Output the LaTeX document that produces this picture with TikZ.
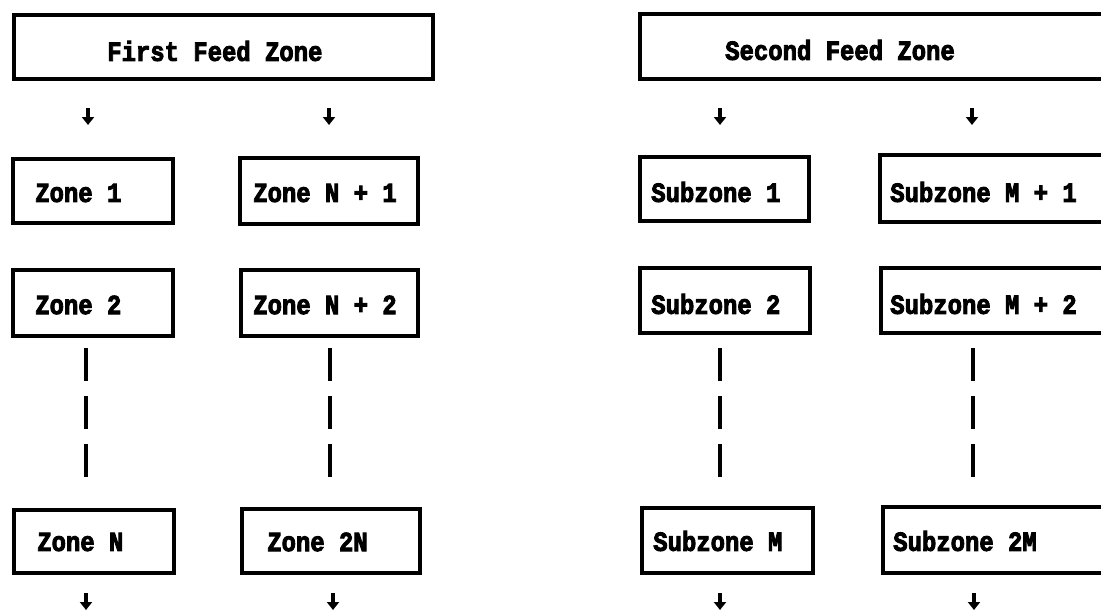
\documentclass[tikz,border=0pt]{standalone}
\usepackage{fontspec}
\setmonofont{Liberation Mono}[BoldFeatures={FakeBold=3.5}]
\usetikzlibrary{fit,arrows.meta}
\newcommand{\tallt}[1]{\scalebox{1}[1.15]{#1}}
\begin{document}
\begin{tikzpicture}[x=0.025cm,y=-0.025cm,
  box/.style={draw=black,line width=2.3pt,inner sep=0pt,rectangle},
  lbl/.style={anchor=west,inner sep=0pt,font=\fontsize{17}{20}\selectfont\ttfamily\bfseries},
  feedarrow/.style={line width=2.3pt,-{Triangle[width=0.3cm,length=0.2cm]}},
  dots/.style={line width=2.5pt,dash pattern=on 0.825cm off 0.375cm}]
\clip (0,0) rectangle (1101,612);
\fill[white] (0,0) rectangle (1101,612);
% boxes
\node[box,fit={(14,15) (433,79)}] (ffz) {};
\node[box,fit={(640,14) (1112,79)}] (sfz) {};
\node[box,fit={(13,159) (173,223)}] (z1) {};
\node[box,fit={(240,158) (418,224)}] (zn1) {};
\node[box,fit={(13,270) (173,336)}] (z2) {};
\node[box,fit={(241,270) (418,336)}] (zn2) {};
\node[box,fit={(14,510) (174,573)}] (zN) {};
\node[box,fit={(242,509) (420,573)}] (z2N) {};
\node[box,fit={(640,157) (809,221)}] (s1) {};
\node[box,fit={(880,155) (1115,222)}] (sm1) {};
\node[box,fit={(640,268) (810,333)}] (s2) {};
\node[box,fit={(881,268) (1115,333)}] (sm2) {};
\node[box,fit={(642,508) (813,573)}] (sM) {};
\node[box,fit={(883,507) (1115,573)}] (s2M) {};
% labels
\node[lbl] (ffzt) at (107,51) {\tallt{First Feed Zone}};
\node[lbl] (sfzt) at (725,50) {\tallt{Second Feed Zone}};
\node[lbl] (z1t) at (35,193) {\tallt{Zone 1}};
\node[lbl] (zn1t) at (253,193) {\tallt{Zone N + 1}};
\node[lbl] (z2t) at (35,305) {\tallt{Zone 2}};
\node[lbl] (zn2t) at (253,305) {\tallt{Zone N + 2}};
\node[lbl] (zNt) at (37,542) {\tallt{Zone N}};
\node[lbl] (z2Nt) at (267,542) {\tallt{Zone 2N}};
\node[lbl] (s1t) at (651,192) {\tallt{Subzone 1}};
\node[lbl] (sm1t) at (890,192) {\tallt{Subzone M + 1}};
\node[lbl] (s2t) at (651,304) {\tallt{Subzone 2}};
\node[lbl] (sm2t) at (890,304) {\tallt{Subzone M + 2}};
\node[lbl] (sMt) at (653,541) {\tallt{Subzone M}};
\node[lbl] (s2Mt) at (893,541) {\tallt{Subzone 2M}};
% arrow coordinates
\coordinate (a1s) at (88,108);  \coordinate (a1e) at (88,125);
\coordinate (a2s) at (329,108); \coordinate (a2e) at (329,125);
\coordinate (a3s) at (720,108); \coordinate (a3e) at (720,125);
\coordinate (a4s) at (972,108); \coordinate (a4e) at (972,125);
\coordinate (b1s) at (86,593);  \coordinate (b1e) at (86,610);
\coordinate (b2s) at (333,593); \coordinate (b2e) at (333,610);
\coordinate (b3s) at (720,593); \coordinate (b3e) at (720,610);
\coordinate (b4s) at (974,593); \coordinate (b4e) at (974,610);
\foreach \s/\e in {a1s/a1e,a2s/a2e,a3s/a3e,a4s/a4e,b1s/b1e,b2s/b2e,b3s/b3e,b4s/b4e}
  \draw[feedarrow] (\s) -- (\e);
% dashed continuations
\coordinate (d1s) at (86,348);  \coordinate (d1e) at (86,477);
\coordinate (d2s) at (330,348); \coordinate (d2e) at (330,477);
\coordinate (d3s) at (720,348); \coordinate (d3e) at (720,477);
\coordinate (d4s) at (973,348); \coordinate (d4e) at (973,477);
\foreach \s/\e in {d1s/d1e,d2s/d2e,d3s/d3e,d4s/d4e}
  \draw[dots] (\s) -- (\e);
\end{tikzpicture}
\end{document}
